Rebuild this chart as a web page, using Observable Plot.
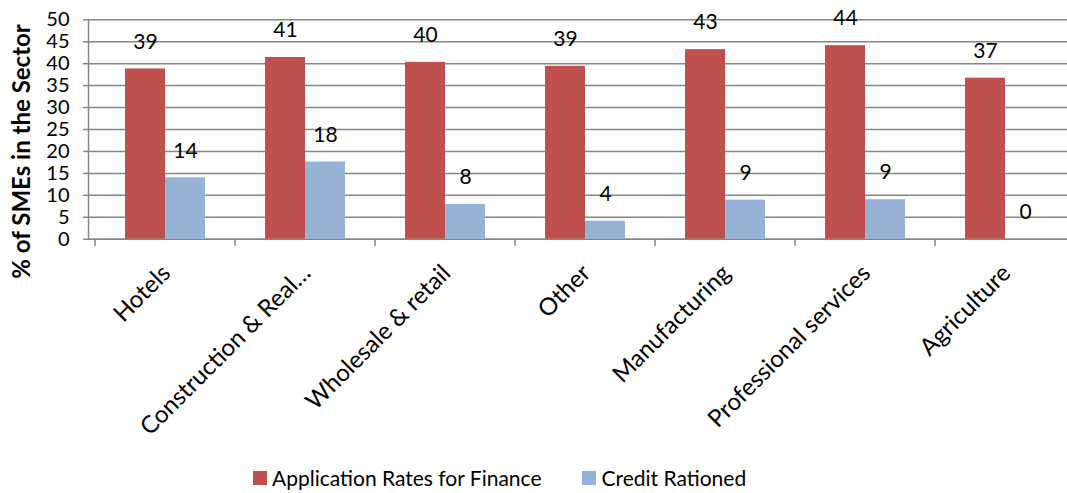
<!DOCTYPE html>
<html>
<head>
<meta charset="utf-8">
<script src="https://cdn.jsdelivr.net/npm/d3@7"></script>
<script src="https://cdn.jsdelivr.net/npm/@observablehq/plot@0.6"></script>
<style>
  html, body { margin: 0; padding: 0; background: #fff; }
  #chart { width: 1067px; height: 493px; position: relative; overflow: hidden; font-family: Lato, sans-serif; }
  #legend { position: absolute; left: 253px; top: 465px; display: flex; align-items: center; font-size: 21px; color: #000; }
  .item { display: flex; align-items: center; margin-right: 41px; }
  .sw { width: 14px; height: 14px; margin-right: 5px; }
</style>
</head>
<body>
<div id="chart"></div>
<script>
const categories = ["Hotels", "Construction & Real…", "Wholesale & retail", "Other", "Manufacturing", "Professional services", "Agriculture"];
const seriesNames = ["Application Rates for Finance", "Credit Rationed"];
const applicationRates = [38.8, 41.4, 40.3, 39.4, 43.2, 44.1, 36.7];
const creditRationed = [14.0, 17.6, 7.9, 4.1, 8.9, 9.0, 0];
const yTicks = [0, 5, 10, 15, 20, 25, 30, 35, 40, 45, 50];
const yTitle = "% of SMEs in the Sector";
const colors = ["#C0504D", "#95B3D7"];

const rows = [];
categories.forEach((c, i) => {
  rows.push({category: c, series: seriesNames[0], value: applicationRates[i]});
  rows.push({category: c, series: seriesNames[1], value: creditRationed[i]});
});
const appRows = rows.filter(d => d.series === seriesNames[0]);
const credRows = rows.filter(d => d.series === seriesNames[1]);

const gray = "#868686";
const W = 1067, H = 455;

// category boundary ticks, drawn from the band scale
const boundaryTicks = (index, scales, values, dims) => {
  const g = d3.create("svg:g");
  for (const c of categories) {
    const x0 = scales.x(c);
    g.append("line").attr("x1", x0).attr("x2", x0)
      .attr("y1", scales.y(0)).attr("y2", scales.y(0) + 7)
      .attr("stroke", gray).attr("stroke-width", 1.5);
  }
  return g.node();
};

const plot = Plot.plot({
  width: W,
  height: H,
  marginTop: 19.3,
  marginBottom: H - 238.7,
  marginLeft: 88,
  marginRight: 0,
  style: {fontFamily: "Lato, sans-serif", fontSize: "21px", color: "#000", background: "#fff"},
  x: {domain: categories, range: [95, 1075], padding: 0, axis: null},
  y: {domain: [0, 50], axis: null},
  marks: [
    Plot.gridY(yTicks, {stroke: gray, strokeOpacity: 1, strokeWidth: 1.5}),
    Plot.ruleY([0], {stroke: gray, strokeWidth: 1.5}),
    Plot.frame({anchor: "left", stroke: gray, strokeWidth: 1.5}),
    Plot.axisY(yTicks, {tickSize: 5, tickPadding: 14, stroke: gray, strokeWidth: 1.5, fontSize: 20, tickFormat: d => String(d), label: null}),
    Plot.text([yTitle], {frameAnchor: "left", textAnchor: "middle", dx: -66, dy: 22, rotate: -90, fontSize: 24, fontWeight: "bold", fill: "#000"}),
    boundaryTicks,
    Plot.barY(appRows, {x: "category", y: "value", fill: colors[0], insetLeft: 30, insetRight: 70}),
    Plot.barY(credRows, {x: "category", y: "value", fill: colors[1], insetLeft: 70, insetRight: 30}),
    Plot.text(appRows, {x: "category", y: "value", text: d => String(Math.round(d.value)), dx: -20, dy: -27, fontSize: 21, fill: "#000"}),
    Plot.text(credRows, {x: "category", y: "value", text: d => String(Math.round(d.value)), dx: 20, dy: -27, fontSize: 21, fill: "#000"}),
    Plot.axisX({tickSize: 0, tickRotate: -45, tickPadding: 30, dx: 1, fontSize: 24, label: null})
  ]
});

const chart = document.getElementById("chart");
chart.appendChild(plot);

const legend = document.createElement("div");
legend.id = "legend";
seriesNames.forEach((s, i) => {
  const item = document.createElement("div");
  item.className = "item";
  const sw = document.createElement("span");
  sw.className = "sw";
  sw.style.background = colors[i];
  const t = document.createElement("span");
  t.textContent = s;
  item.appendChild(sw);
  item.appendChild(t);
  legend.appendChild(item);
});
chart.appendChild(legend);
</script>
</body>
</html>
